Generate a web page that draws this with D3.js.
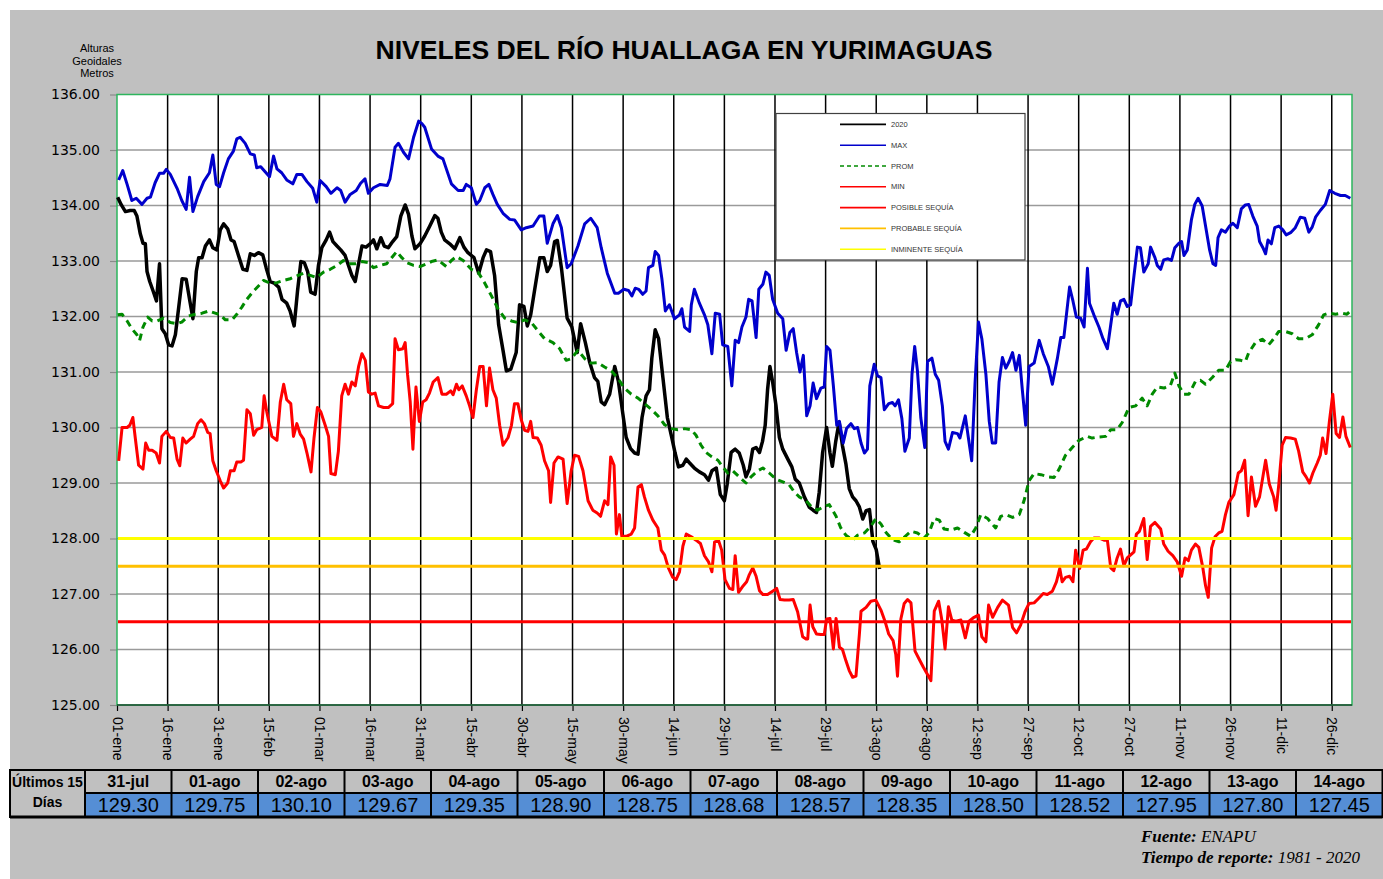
<!DOCTYPE html>
<html>
<head>
<meta charset="utf-8">
<script src="https://cdn.jsdelivr.net/npm/d3@7"></script>
<style>
  body { margin: 0; background: #ffffff; }
  svg { display: block; }
</style>
</head>
<body>
<svg id="chart" width="1383" height="879"></svg>
<script>
'use strict';

// ---- data (day of year 0 = 01-ene, level in metres) ----
const tickLabels = [
  "01-ene", "16-ene", "31-ene", "15-feb", "01-mar", "16-mar", "31-mar", "15-abr", "30-abr",
  "15-may", "30-may", "14-jun", "29-jun", "14-jul", "29-jul", "13-ago", "28-ago", "12-sep",
  "27-sep", "12-oct", "27-oct", "11-nov", "26-nov", "11-dic", "26-dic"
];

const level2020 = [
  [0.2,134.15],[1.2,134.02],[2.5,133.89],[3.9,133.91],[5.1,133.91],[5.9,133.81],[6.9,133.49],[7.7,133.32],
  [8.4,133.31],[8.9,132.81],[9.7,132.63],[10.7,132.46],[11.7,132.28],[12.6,132.95],[13.3,131.78],[14.3,131.69],
  [15.3,131.49],[16.3,131.47],[17.3,131.67],[18.3,132.17],[19.3,132.68],[20.5,132.67],[21.5,132.31],[22.5,131.96],
  [23.5,132.81],[24.2,133.06],[25.2,133.06],[26.2,133.27],[27.4,133.38],[28.4,133.24],[29.6,133.2],[30.6,133.56],
  [31.6,133.67],[32.8,133.58],[33.8,133.38],[34.7,133.35],[36,133.1],[37.3,132.85],[38.5,132.83],[39.5,133.13],
  [40.7,133.1],[41.9,133.15],[43.2,133.11],[44.2,132.88],[45.4,132.63],[46.6,132.6],[47.9,132.53],[48.9,132.31],
  [50.3,132.24],[51.3,132.1],[52.5,131.83],[53.5,132.46],[54.5,132.99],[55.5,132.97],[56.5,132.81],[57.4,132.44],
  [58.7,132.4],[59.7,132.92],[60.7,133.24],[62,133.38],[63,133.52],[64,133.35],[65.2,133.27],[66.3,133.2],
  [67.6,133.1],[68.6,132.92],[69.6,132.74],[70.6,132.63],[71.6,132.95],[72.6,133.27],[73.8,133.25],[75,133.31],
  [76,133.38],[77,133.22],[78.2,133.42],[79.2,133.27],[80.4,133.24],[81.7,133.35],[82.9,133.44],[84.1,133.81],
  [85.4,134.01],[86.4,133.84],[87.4,133.45],[88.3,133.22],[89.8,133.31],[91.2,133.45],[92.7,133.63],[94.2,133.82],
  [95.1,133.77],[96.1,133.52],[97.1,133.38],[98.6,133.31],[100.1,133.22],[101.6,133.42],[102.8,133.25],[104,133.15],
  [105.8,133.06],[107.2,132.78],[108.5,133.06],[109.5,133.2],[110.7,133.17],[111.9,132.74],[113.1,131.85],[114.4,131.39],
  [115.4,131.02],[116.7,131.05],[118.3,131.35],[119.3,132.21],[120.6,132.18],[121.6,131.83],[122.6,132.03],[123.8,132.49],
  [125.3,133.06],[126.5,133.06],[127.5,132.81],[128.5,132.92],[129.7,133.35],[130.5,133.37],[131.7,132.88],[133.4,131.97],
  [134.8,131.81],[136.4,131.35],[137.4,131.87],[138.8,131.53],[140.1,131.17],[141.5,130.9],[142.5,130.83],[143.5,130.46],
  [144.5,130.41],[146,130.6],[147.5,131.1],[148.6,130.83],[149.9,130.25],[150.9,129.82],[152.2,129.62],[153.4,129.54],
  [154.4,129.52],[155.6,130.18],[156.8,130.57],[157.8,130.68],[158.5,131.25],[159.5,131.76],[160.5,131.6],[161.8,130.89],
  [163.1,130.18],[164.4,129.82],[165.4,129.54],[166.4,129.29],[167.7,129.32],[168.7,129.43],[169.7,129.36],[171.1,129.27],
  [172.6,129.2],[174.1,129.15],[175.3,129.05],[176.3,129.22],[177.6,129.27],[178.8,128.79],[180,128.68],[180.8,128.97],
  [182,129.55],[183.2,129.61],[184.4,129.54],[185.6,129.32],[186.4,129.11],[187.4,129.25],[188.4,129.61],[189.4,129.64],
  [190.4,129.55],[191.3,129.75],[192.1,130.04],[192.8,130.68],[193.5,131.1],[194.3,130.82],[195.3,130.39],[196.3,129.82],
  [197.3,129.61],[198.8,129.43],[200,129.29],[201,129.07],[202.2,129],[203.7,128.75],[205.2,128.56],[206.3,128.51],
  [207.3,128.47],[208.1,128.83],[209.1,129.54],[210.3,130],[211.3,129.54]
];

const levelMax = [
  [0.5,134.46],[1.7,134.63],[3,134.38],[4.4,134.09],[5.7,134.13],[7.4,134.02],[8.9,134.13],[9.9,134.15],
  [11.3,134.41],[12.6,134.58],[13.8,134.58],[14.6,134.65],[15.8,134.56],[17.8,134.31],[19.2,134.09],[20.5,133.93],
  [21.5,134.51],[22.5,133.89],[23.9,134.16],[25.7,134.43],[27.4,134.59],[28.4,134.91],[29.4,134.38],[30.4,134.34],
  [31.6,134.59],[33,134.84],[34.5,134.98],[35.5,135.2],[36.5,135.23],[38,135.12],[39.5,134.93],[40.7,134.91],
  [41.4,134.68],[42.6,134.7],[43.9,134.61],[45.2,134.52],[46.4,134.89],[47.4,134.66],[48.8,134.59],[50.3,134.46],
  [52.1,134.39],[53.3,134.56],[54.8,134.56],[56.3,134.43],[58,134.31],[59.2,134.06],[60.2,134.45],[62,134.34],
  [63.4,134.22],[65.2,134.32],[66.3,134.27],[67.6,134.06],[69.1,134.2],[70.9,134.27],[72.2,134.4],[73.5,134.48],
  [74.5,134.22],[76,134.32],[78,134.38],[80.1,134.36],[80.9,134.48],[82.4,135.05],[83.4,135.12],[84.9,134.96],
  [86.4,134.84],[87.9,135.23],[89.4,135.52],[90.3,135.48],[91.2,135.41],[93.2,135.02],[95.1,134.89],[96.6,134.84],
  [97.6,134.66],[99.1,134.39],[101.1,134.27],[102.6,134.27],[103.5,134.38],[105,134.32],[106.5,134.02],[107.5,134.09],
  [109,134.32],[110.2,134.38],[111.4,134.2],[112.7,134.02],[114.4,133.86],[116.4,133.75],[117.8,133.74],[119.8,133.56],
  [121.3,133.6],[123.3,133.63],[125.2,133.81],[126.5,133.81],[127.5,133.32],[129.2,133.67],[130.5,133.82],[131.7,133.6],
  [133.4,132.88],[134.6,132.95],[136.6,133.27],[138.6,133.67],[140.4,133.77],[142.3,133.6],[143.5,133.24],[145.3,132.78],
  [147.5,132.42],[148.6,132.42],[150.2,132.49],[151.6,132.47],[152.6,132.37],[153.6,132.51],[154.6,132.49],[155.8,132.4],
  [156.8,132.46],[157.5,132.88],[158.8,132.92],[159.5,133.17],[160.5,133.1],[161.5,132.67],[162.5,132.1],[163.7,132.21],
  [165.2,131.96],[166.7,132.03],[167.4,132.14],[168.2,131.81],[169.7,131.73],[170.2,132.21],[171.1,132.49],[172.6,132.24],
  [174.1,132.03],[175.1,131.85],[176.3,131.33],[177.3,132.06],[178.6,132.04],[179.5,131.49],[181,131.46],[182.2,130.75],
  [183.2,131.57],[184.2,131.53],[185.2,131.81],[186.4,131.99],[187.2,132.31],[188.2,132.28],[189.4,131.62],[190.2,132.49],
  [191.4,132.58],[192.3,132.8],[193.3,132.74],[194.3,132.31],[195.8,132.06],[197.3,131.96],[198.3,131.39],[199.4,131.71],
  [200.4,131.78],[201.4,131.35],[202.4,131],[203.4,131.3],[204.4,130.21],[205.4,130.39],[206.3,130.8],[207.3,130.52],
  [208.6,130.71],[209.6,130.73],[210.3,131.46],[211.3,131.39],[212.3,130.75],[213.3,130.04],[214.1,130.11],[215.2,129.72],
  [216.2,129.98],[217.5,130.07],[218.5,129.98],[219.5,130],[220.5,129.72],[221.5,129.54],[222.4,129.61],[223.1,130.75],
  [224.4,131.14],[225.4,130.93],[226.4,130.9],[227.4,130.32],[228.7,130.43],[229.8,130.45],[230.6,130.39],[231.6,130.5],
  [232.6,130.16],[233.5,129.57],[234.8,129.81],[235.6,130.96],[236.4,131.46],[237.2,131.03],[238.2,130.18],[239.4,129.64],
  [240.2,131.19],[241.5,131.25],[242.5,130.96],[243.5,130.85],[244.6,130.39],[245.4,129.75],[246.4,129.61],[247.6,129.91],
  [249.1,129.89],[249.8,129.81],[251.4,130.21],[252.3,129.82],[253.3,129.4],[254.3,130.82],[255.3,131.9],[256.3,131.6],
  [257.5,130.96],[258.5,130.11],[259.4,129.72],[260.4,129.72],[261.4,130.82],[262.4,131.26],[263.4,131.07],[264.4,131.19],
  [265.4,131.35],[266.4,131.03],[267.4,131.3],[268.3,130.68],[269.3,130.04],[270.3,131.1],[271.8,131.16],[273.3,131.57],
  [274.5,131.33],[276,131.1],[277.2,130.78],[278.7,131.25],[279.7,131.62],[280.6,131.62],[282.3,132.53],[283.3,132.28],
  [284.3,131.99],[285.6,131.97],[286.6,131.81],[287.6,132.87],[288.2,132.24],[289.5,132.03],[291,131.81],[292.2,131.6],
  [293.5,131.42],[294.5,131.85],[295.4,132.24],[296.4,132.04],[297.4,132.28],[298.4,132.31],[299.4,132.18],[300.4,132.21],
  [301.4,132.74],[302.4,133.25],[303.3,133.24],[304.3,132.8],[305.6,132.95],[306.3,133.25],[307.6,133.06],[308.3,132.92],
  [309.3,132.85],[310.2,133.02],[311.5,133.04],[312.5,133.01],[313.5,133.24],[314.7,133.32],[315.5,133.35],[316.2,133.1],
  [317.2,133.2],[318.4,133.74],[319.4,134.02],[320.4,134.13],[321.6,133.99],[322.6,133.63],[323.8,133.2],[324.8,132.95],
  [325.6,132.92],[326.3,133.42],[327.3,133.56],[328.5,133.52],[329.7,133.63],[330.7,133.68],[332,133.6],[333.2,133.94],
  [334.4,134.01],[335.4,134.02],[336.6,133.81],[337.9,133.63],[338.6,133.35],[339.6,133.24],[340.4,133.13],[341.1,133.38],
  [342.1,133.31],[343.1,133.6],[344.3,133.63],[345.5,133.56],[346.5,133.47],[347.8,133.51],[349.2,133.6],[350.7,133.79],
  [352,133.77],[353.2,133.52],[354.2,133.61],[355.2,133.79],[356.6,133.91],[358.1,134.02],[359.4,134.27],[360.9,134.22],
  [362.6,134.18],[364,134.18],[365.5,134.13]
];

const levelProm = [
  [0.2,132.03],[1.5,132.04],[3,131.92],[4.4,131.78],[5.9,131.67],[6.7,131.57],[7.7,131.81],[9.1,131.99],
  [10.4,131.92],[11.9,131.92],[13.8,131.97],[15.8,131.89],[17.8,131.87],[19.2,131.9],[21.2,132.01],[23.2,132.04],
  [25.2,132.06],[27.2,132.1],[29.1,132.06],[30.6,132.03],[32.1,131.94],[34.1,131.94],[35.5,132.04],[37,132.17],
  [38.5,132.31],[40.5,132.46],[42.4,132.58],[43.4,132.65],[45.4,132.6],[47.4,132.61],[49.4,132.65],[51.3,132.68],
  [53.3,132.73],[55.3,132.78],[57.3,132.74],[59.2,132.7],[61.2,132.8],[63.2,132.85],[65.2,132.92],[67.1,133.01],
  [68.6,132.95],[70.6,132.95],[72.6,132.99],[74.5,132.97],[76,132.88],[78,132.92],[79.9,132.95],[81.4,133.06],
  [82.9,133.17],[84.4,133.06],[85.9,132.97],[87.9,132.92],[89.8,132.9],[91.8,132.95],[93.2,132.99],[95.1,133.02],
  [97.6,132.9],[99.1,133.01],[100.6,133.08],[102.6,133.01],[105,132.85],[107,132.8],[109,132.6],[110.9,132.38],
  [112.9,132.14],[114.9,131.97],[116.9,131.92],[118.8,131.89],[120.8,131.94],[122.8,131.89],[124.8,131.74],[126.7,131.6],
  [129.2,131.53],[131.2,131.42],[133.1,131.21],[134.6,131.24],[136.6,131.39],[138.6,131.24],[140.5,131.16],[142.5,131.17],
  [144.5,131.09],[146.5,131.02],[148.4,130.89],[150.4,130.71],[152.4,130.6],[154.4,130.53],[156.3,130.43],[158.3,130.33],
  [160.3,130.21],[162.3,130.05],[164.2,129.98],[166.2,129.96],[168.2,129.98],[170.2,129.96],[171.6,129.86],[173.1,129.68],
  [174.6,129.55],[176.1,129.48],[178.1,129.41],[179.5,129.29],[181,129.18],[182.5,129.22],[184.4,129.11],[186.4,129],
  [187.9,129.11],[189.9,129.22],[191.4,129.27],[193.3,129.18],[195.3,129.07],[197.3,129.02],[199.2,128.97],[200.7,128.84],
  [202.2,128.75],[204.2,128.68],[205.7,128.58],[207.6,128.51],[209.6,128.58],[211.1,128.61],[213.1,128.4],[214.5,128.19],
  [216,128.06],[218,127.97],[219.5,128.06],[221.5,128.1],[223.4,128.22],[224.9,128.36],[226.4,128.26],[227.9,128.11],
  [229.8,127.98],[231.8,127.94],[233.6,128.04],[235.3,128.13],[237.2,128.1],[239.2,128.01],[240.7,128.11],[242.2,128.36],
  [243.7,128.33],[245.1,128.17],[247.1,128.15],[249.1,128.19],[251.1,128.11],[253,128.04],[254.5,128.19],[256,128.43],
  [258,128.36],[260.4,128.19],[261.9,128.4],[263.4,128.43],[265.4,128.38],[267.4,128.43],[268.8,128.68],[270.3,129.04],
  [271.8,129.17],[273.8,129.15],[276.2,129.11],[277.7,129.1],[279.2,129.25],[281.1,129.5],[283.1,129.64],[285.1,129.77],
  [287.6,129.84],[289,129.81],[291,129.83],[293,129.84],[294.5,129.96],[296.4,129.96],[297.9,130.09],[299.9,130.36],
  [301.9,130.39],[303.8,130.53],[305.3,130.39],[306.8,130.6],[308.3,130.73],[310.3,130.71],[312.2,130.76],[313.5,130.98],
  [314.7,130.75],[316.2,130.6],[317.7,130.6],[319.6,130.83],[321.1,130.85],[322.6,130.78],[324.6,130.9],[326.5,131.03],
  [328.5,131.03],[330,131.19],[331.5,131.22],[333,131.21],[334.4,131.19],[335.4,131.35],[337.4,131.53],[339.4,131.59],
  [341.3,131.49],[342.8,131.6],[344.3,131.73],[346.3,131.73],[348.3,131.69],[350.2,131.6],[352.2,131.6],[354.2,131.67],
  [356.1,131.85],[357.6,132.03],[359.1,132.06],[361.1,132.04],[363.1,132.06],[364.5,132.04],[365.5,132.1]
];

const levelMin = [
  [0.5,129.4],[1.5,130],[3,130],[3.8,130.04],[4.7,130.18],[5.4,129.82],[6.4,129.32],[7.7,129.25],
  [8.5,129.72],[9.4,129.59],[10.4,129.59],[11.6,129.54],[12.6,129.36],[13.3,129.84],[14.6,129.93],[15.8,129.82],
  [16.8,129.81],[17.8,129.43],[18.6,129.31],[19.5,129.81],[20.5,129.72],[21.7,129.79],[22.7,129.84],[23.9,130.07],
  [24.9,130.14],[25.9,130.07],[26.9,129.91],[27.6,129.89],[28.4,129.4],[29.4,129.22],[30.6,129.04],[31.6,128.91],
  [32.8,129],[33.6,129.22],[34.7,129.22],[35.5,129.38],[36.7,129.38],[37.5,129.41],[38.5,130.32],[39.5,130.25],
  [40.5,129.86],[41.4,129.96],[42.9,130],[43.6,130.57],[44.4,130.28],[45.9,129.84],[47.4,129.77],[48.4,130.46],
  [49.4,130.78],[50.3,130.5],[51.5,130.43],[52.3,129.84],[53.3,130.07],[54.3,129.88],[55.3,129.79],[56.3,129.54],
  [57.5,129.2],[58.4,129.82],[59.4,130.36],[60.4,130.28],[61.7,130.04],[62.7,129.84],[63.4,129.17],[64.7,129.15],
  [65.6,129.57],[66.6,130.57],[67.6,130.78],[68.6,130.6],[69.6,130.82],[70.6,130.75],[71.6,131.1],[72.6,131.33],
  [73.6,131.21],[74.5,130.64],[75.5,130.6],[76.5,130.62],[77.5,130.39],[79,130.36],[80.4,130.36],[81.7,130.43],
  [82.4,131.6],[83.4,131.4],[84.7,131.42],[85.4,131.53],[86.1,130.96],[86.9,130.46],[87.7,129.61],[88.6,130.73],
  [89.6,130.11],[90.6,130.46],[91.6,130.5],[92.6,130.62],[93.7,130.82],[95.1,130.9],[96.3,130.6],[97.6,130.6],
  [98.9,130.66],[99.6,130.59],[100.6,130.78],[101.3,130.68],[102.3,130.75],[103.5,130.57],[104.5,130.39],[105.5,130.18],
  [106.5,130.68],[107.5,131.1],[108.5,131.1],[109.5,130.39],[110.4,131.07],[111.4,130.68],[112.4,130.53],[113.4,130.04],
  [114.4,129.68],[115.9,129.82],[116.9,130.04],[117.8,130.43],[118.8,130.43],[119.8,130.14],[120.8,129.95],[121.8,129.93],
  [122.6,130.11],[123.3,129.82],[124.6,129.81],[125.7,129.68],[126.7,129.4],[127.9,129.22],[128.5,128.65],[129.5,129.36],
  [130.7,129.47],[132.2,129.43],[133.4,128.63],[134.6,129.22],[135.6,129.5],[136.8,129.48],[138.1,129.22],[139.6,128.68],
  [141,128.51],[142.3,128.46],[143.3,128.4],[144.5,128.68],[145.5,128.61],[146.3,129.47],[147.3,129.32],[148,128.08],
  [148.9,128.43],[149.6,128.04],[150.9,128.04],[152.4,128.08],[153.4,128.19],[154.4,128.93],[155.4,128.97],[156.3,128.75],
  [157.5,128.51],[158.8,128.33],[160.3,128.19],[161.3,127.79],[162.3,127.7],[163.4,127.47],[164.7,127.3],[165.7,127.26],
  [166.7,127.4],[167.7,127.86],[168.7,128.08],[170.2,128.03],[171.6,127.97],[172.9,127.91],[174.1,127.69],[175.3,127.58],
  [176.3,127.4],[177.1,127.94],[178.3,127.96],[179.2,127.79],[180.2,127.26],[181.5,127.1],[182.5,127.08],[183.2,127.69],
  [184.2,127.03],[185.6,127.15],[186.6,127.22],[187.4,127.35],[188.4,127.47],[189.4,127.32],[190.4,127.06],[191.4,126.99],
  [192.8,126.99],[194.3,127.05],[195.5,127.1],[196.5,126.9],[197.8,126.89],[199.2,126.89],[200.4,126.9],[201.7,126.68],
  [203.2,126.23],[204.2,126.19],[204.7,126.19],[205.4,126.8],[206.2,126.41],[207.3,126.28],[208.6,126.27],[209.6,126.27],
  [210.3,126.55],[211.3,126.56],[212.3,126.01],[213.1,126.56],[214.1,126.04],[215,126],[216,125.8],[217,125.62],
  [218,125.5],[219,125.52],[220,126.27],[220.5,126.69],[222,126.76],[223.4,126.87],[224.9,126.89],[226.4,126.71],
  [227.7,126.49],[228.7,126.28],[230,126.16],[230.8,125.91],[231.3,125.52],[232.3,126.55],[233.3,126.83],[234.3,126.9],
  [235.3,126.84],[236,126.33],[236.5,125.97],[237.7,125.83],[238.9,125.69],[240.2,125.55],[241.2,125.44],[242.2,126.69],
  [243.5,126.87],[244.4,126.55],[245.4,126.01],[246.4,126.77],[247.4,126.53],[248.6,126.51],[250.1,126.53],[251.4,126.21],
  [252.5,126.51],[254,126.58],[255.3,126.62],[256.3,126.23],[257.5,126.14],[258.3,126.8],[259.5,126.58],[261,126.76],
  [262.4,126.89],[264.2,126.8],[265.4,126.4],[266.6,126.3],[267.8,126.44],[269.1,126.68],[270.3,126.83],[271.8,126.84],
  [273.1,126.92],[274.5,127.01],[275.7,126.99],[277.2,127.05],[278.4,127.22],[279.4,127.46],[280.1,127.22],[281.1,127.3],
  [282.3,127.32],[283.3,127.22],[284.1,127.79],[285.3,127.46],[286.3,127.79],[287.3,127.81],[288.5,127.94],[289.5,128.01],
  [291,128.01],[292.5,127.97],[293.5,127.97],[294.5,127.47],[295.4,127.42],[296.4,127.65],[297.4,127.81],[298.4,127.51],
  [299.4,127.65],[301.4,127.76],[302.1,128.08],[303,128.13],[304.3,128.36],[305.3,127.62],[306.3,128.22],[307.6,128.29],
  [309.3,128.17],[310.2,127.9],[311.5,127.77],[312.9,127.69],[314.2,127.58],[315.5,127.32],[316.5,127.65],[317.5,127.6],
  [318.4,127.79],[319.6,127.9],[320.6,127.84],[321.8,127.47],[322.6,127.15],[323.4,126.94],[324.4,127.83],[325.4,128.03],
  [326.5,128.1],[327.5,128.13],[328.5,128.43],[329.5,128.65],[331,128.79],[332.3,129.18],[333.2,129.22],[334.2,129.41],
  [335.2,128.41],[336.2,129.11],[337.4,128.58],[338.6,128.75],[340.4,129.41],[341.5,128.98],[342.8,128.75],[343.5,128.51],
  [344.3,128.97],[345.3,129.68],[346.3,129.82],[347.8,129.81],[349.2,129.79],[350.2,129.57],[351.4,129.2],[352.4,129.11],
  [353.4,129],[354.4,129.18],[355.7,129.36],[356.6,129.5],[357.3,129.81],[358.3,129.53],[359.3,130.11],[360.3,130.6],
  [361.3,129.89],[362.3,129.82],[363.3,130.19],[364.2,129.84],[365.5,129.64]
];

// drought thresholds
const thresholdNames = ["POSIBLE SEQUÍA", "PROBABLE SEQUÍA", "INMINENTE SEQUÍA"];
const thresholdLevels = [126.5, 127.5, 128.0];

// last 15 days table
const tableStartDay = 212;
const tableDates = [
  "31-jul", "01-ago", "02-ago", "03-ago", "04-ago", "05-ago", "06-ago", "07-ago",
  "08-ago", "09-ago", "10-ago", "11-ago", "12-ago", "13-ago", "14-ago"
];
const tableValues = [
  129.30, 129.75, 130.10, 129.67, 129.35, 128.90, 128.75, 128.68,
  128.57, 128.35, 128.50, 128.52, 127.95, 127.80, 127.45
];

const legendNames = ["2020", "MAX", "PROM", "MIN"].concat(thresholdNames);

// ---- layout ----
const plot = {left: 117, right: 1352, top: 94.5, bottom: 705};
const colors = {
  y2020: "#000000", max: "#0000cc", prom: "#008a00", min: "#ff0000",
  posible: "#ff0000", probable: "#ffc000", inminente: "#ffff00"
};
const thresholdColors = [colors.posible, colors.probable, colors.inminente];

const svg = d3.select("#chart");

// grey sheet
svg.append("rect")
  .attr("x", 10).attr("y", 10)
  .attr("width", 1373).attr("height", 869)
  .attr("fill", "#c0c0c0");

// scales
const x = d3.scaleLinear().domain([0, 366]).range([plot.left, plot.right]);
const y = d3.scaleLinear().domain([125, 136]).range([plot.bottom, plot.top]);
const tickDays = tickLabels.map((d, i) => i * 15);

// plot background
svg.append("rect")
  .attr("x", plot.left).attr("y", plot.top)
  .attr("width", plot.right - plot.left).attr("height", plot.bottom - plot.top)
  .attr("fill", "#ffffff");

// horizontal grid
svg.append("g")
  .selectAll("line")
  .data(d3.range(126, 136))
  .enter().append("line")
  .attr("x1", plot.left).attr("x2", plot.right)
  .attr("y1", d => y(d)).attr("y2", d => y(d))
  .attr("stroke", "#9a9a9a")
  .attr("stroke-width", 1.5);

// vertical grid
svg.append("g")
  .selectAll("line")
  .data(tickDays.slice(1))
  .enter().append("line")
  .attr("x1", d => x(d)).attr("x2", d => x(d))
  .attr("y1", plot.top).attr("y2", plot.bottom)
  .attr("stroke", "#000000")
  .attr("stroke-width", 1.5);

// y axis
const yAxis = d3.axisLeft(y)
  .tickValues(d3.range(125, 137))
  .tickFormat(d3.format(".2f"))
  .tickSize(7)
  .tickPadding(10);
const gy = svg.append("g")
  .attr("transform", `translate(${plot.left},0)`)
  .call(yAxis);
gy.select(".domain").remove();
gy.selectAll(".tick line").attr("stroke", "#8a8a8a").attr("stroke-width", 1.2);
gy.selectAll(".tick text")
  .attr("x", -17)
  .style("font-family", "'DejaVu Sans', Verdana, sans-serif")
  .style("font-size", "14px")
  .attr("fill", "#000");

// x axis
const xAxis = d3.axisBottom(x)
  .tickValues(tickDays)
  .tickFormat((d, i) => tickLabels[i])
  .tickSize(6);
const gx = svg.append("g")
  .attr("transform", `translate(0,${plot.bottom})`)
  .call(xAxis);
gx.select(".domain").remove();
gx.selectAll(".tick line").attr("stroke", "#000").attr("stroke-width", 1.2);
gx.selectAll(".tick text")
  .attr("y", 0).attr("dy", "0.35em")
  .attr("transform", "translate(0,12) rotate(90)")
  .attr("text-anchor", "start")
  .style("font-family", "'Liberation Sans', Arial, sans-serif")
  .style("font-size", "14px")
  .attr("fill", "#000");

// plot frame
svg.append("rect")
  .attr("x", plot.left).attr("y", plot.top)
  .attr("width", plot.right - plot.left).attr("height", plot.bottom - plot.top)
  .attr("fill", "none")
  .attr("stroke", "#2db55d")
  .attr("stroke-width", 1.5);
svg.append("line")
  .attr("x1", plot.left).attr("x2", plot.right)
  .attr("y1", plot.bottom).attr("y2", plot.bottom)
  .attr("stroke", "#1e4a30")
  .attr("stroke-width", 1.5);

// series
const line = d3.line().x(d => x(d[0])).y(d => y(d[1]));
const last15 = tableValues.map((v, i) => [tableStartDay + i, v]);
const full2020 = level2020.concat(last15);

const series = [
  {data: full2020, color: colors.y2020, width: 3.5, dash: null},
  {data: levelMax, color: colors.max, width: 3, dash: null},
  {data: levelProm, color: colors.prom, width: 3, dash: "7,5"},
  {data: levelMin, color: colors.min, width: 3, dash: null}
];
series.forEach(s => {
  svg.append("path")
    .datum(s.data)
    .attr("d", line)
    .attr("fill", "none")
    .attr("stroke", s.color)
    .attr("stroke-width", s.width)
    .attr("stroke-linejoin", "round")
    .attr("stroke-dasharray", s.dash);
});

// threshold lines
svg.append("g")
  .selectAll("line")
  .data(thresholdLevels)
  .enter().append("line")
  .attr("x1", plot.left + 1).attr("x2", plot.right - 1)
  .attr("y1", d => y(d)).attr("y2", d => y(d))
  .attr("stroke", (d, i) => thresholdColors[i])
  .attr("stroke-width", 3);

// legend
const legendColors = [colors.y2020, colors.max, colors.prom, colors.min].concat(thresholdColors);
const legend = svg.append("g");
legend.append("rect")
  .attr("x", 776).attr("y", 113.5)
  .attr("width", 249).attr("height", 146.5)
  .attr("fill", "#ffffff")
  .attr("stroke", "#404040")
  .attr("stroke-width", 1.2);
const items = legend.selectAll("g.item")
  .data(legendNames)
  .enter().append("g")
  .attr("class", "item")
  .attr("transform", (d, i) => `translate(840,${124.4 + i * 20.8})`);
items.append("line")
  .attr("x1", 0).attr("x2", 46)
  .attr("stroke", (d, i) => legendColors[i])
  .attr("stroke-width", 1.6)
  .attr("stroke-dasharray", (d, i) => i === 2 ? "4,3" : null);
items.append("text")
  .attr("x", 51).attr("dy", "0.35em")
  .style("font-family", "'Liberation Sans', Arial, sans-serif")
  .style("font-size", "7.5px")
  .attr("fill", "#333")
  .text(d => d);

// title
svg.append("text")
  .attr("x", 684).attr("y", 59)
  .attr("text-anchor", "middle")
  .style("font-family", "'Liberation Sans', Arial, sans-serif")
  .style("font-weight", "bold")
  .style("font-size", "26.6px")
  .text("NIVELES DEL RÍO HUALLAGA EN YURIMAGUAS");

// axis caption
svg.append("text")
  .attr("text-anchor", "middle")
  .style("font-family", "'Liberation Sans', Arial, sans-serif")
  .style("font-size", "11px")
  .selectAll("tspan")
  .data(["Alturas", "Geoidales", "Metros"])
  .enter().append("tspan")
  .attr("x", 97)
  .attr("y", (d, i) => 52 + i * 12.5)
  .text(d => d);

// table of last 15 days
const tbl = {x0: 10, labelW: 75, colW: 86.5, top: 770, mid: 793, bottom: 817};
const colX = i => tbl.x0 + tbl.labelW + i * tbl.colW;
const table = svg.append("g");
table.append("rect")
  .attr("x", colX(0)).attr("y", tbl.mid)
  .attr("width", tbl.colW * tableDates.length).attr("height", tbl.bottom - tbl.mid)
  .attr("fill", "#558ed5");
table.append("rect")
  .attr("x", tbl.x0).attr("y", tbl.top)
  .attr("width", tbl.labelW + tbl.colW * tableDates.length).attr("height", tbl.bottom - tbl.top)
  .attr("fill", "none")
  .attr("stroke", "#000")
  .attr("stroke-width", 2);
table.append("line")
  .attr("x1", colX(0)).attr("x2", colX(tableDates.length))
  .attr("y1", tbl.mid).attr("y2", tbl.mid)
  .attr("stroke", "#000").attr("stroke-width", 2);
table.append("line")
  .attr("x1", tbl.x0).attr("x2", colX(tableDates.length))
  .attr("y1", tbl.bottom).attr("y2", tbl.bottom)
  .attr("stroke", "#000").attr("stroke-width", 3);
table.selectAll("line.sep")
  .data(d3.range(tableDates.length))
  .enter().append("line")
  .attr("class", "sep")
  .attr("x1", d => colX(d)).attr("x2", d => colX(d))
  .attr("y1", tbl.top).attr("y2", tbl.bottom)
  .attr("stroke", "#000").attr("stroke-width", 2);

const narrow = "'Liberation Sans Narrow', 'Arial Narrow', 'Liberation Sans', sans-serif";
table.selectAll("text.date")
  .data(tableDates)
  .enter().append("text")
  .attr("class", "date")
  .attr("x", (d, i) => colX(i) + tbl.colW / 2)
  .attr("y", 787)
  .attr("text-anchor", "middle")
  .style("font-family", narrow)
  .style("font-weight", "bold")
  .style("font-size", "16px")
  .text(d => d);
table.selectAll("text.val")
  .data(tableValues)
  .enter().append("text")
  .attr("class", "val")
  .attr("x", (d, i) => colX(i) + tbl.colW / 2)
  .attr("y", 812)
  .attr("text-anchor", "middle")
  .style("font-family", narrow)
  .style("font-size", "20px")
  .text(d => d.toFixed(2));
table.append("text")
  .attr("text-anchor", "middle")
  .style("font-family", narrow)
  .style("font-weight", "bold")
  .style("font-size", "14px")
  .selectAll("tspan")
  .data(["Últimos 15", "Días"])
  .enter().append("tspan")
  .attr("x", tbl.x0 + tbl.labelW / 2)
  .attr("y", (d, i) => 787 + i * 20)
  .text(d => d);

// source note
const note = svg.append("g")
  .style("font-family", "'Liberation Serif', 'Times New Roman', serif")
  .style("font-style", "italic")
  .style("font-size", "17px");
const n1 = note.append("text").attr("x", 1141).attr("y", 842);
n1.append("tspan").style("font-weight", "bold").text("Fuente: ");
n1.append("tspan").text("ENAPU");
const n2 = note.append("text").attr("x", 1141).attr("y", 863);
n2.append("tspan").style("font-weight", "bold").text("Tiempo de reporte: ");
n2.append("tspan").text("1981 - 2020");
</script>
</body>
</html>
